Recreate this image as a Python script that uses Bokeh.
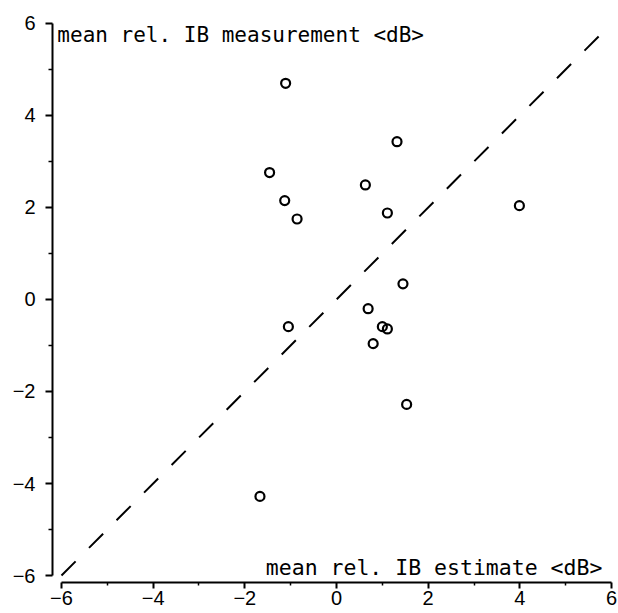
from bokeh.plotting import figure
from bokeh.models import Range1d, FixedTicker, Label, ColumnDataSource
from bokeh.embed import file_html
from bokeh.resources import INLINE

# data
est_x = [-1.11, -1.46, -1.13, -0.86, 0.63, 1.32, 1.11, 3.99, 1.45, 0.69, 1.00, 1.11, 0.80, -1.05, 1.53, -1.67]
meas_y = [4.70, 2.76, 2.15, 1.75, 2.49, 3.43, 1.88, 2.04, 0.34, -0.20, -0.59, -0.64, -0.96, -0.59, -2.28, -4.28]
diag_x = [-6, 6]
diag_y = [-6, 6]
major_ticks = [-6, -4, -2, 0, 2, 4, 6]
minor_ticks = [-5, -3, -1, 1, 3, 5]
y_title = "mean rel. IB measurement <dB>"
x_title = "mean rel. IB estimate <dB>"

p = figure(width=618, height=613, output_backend="svg", toolbar_location=None,
           x_range=Range1d(-6.196, 6.065), y_range=Range1d(-6.152, 6.217),
           min_border_left=52, min_border_right=4, min_border_top=13, min_border_bottom=31)

p.grid.visible = False
p.outline_line_color = None
p.background_fill_color = "white"
p.border_fill_color = "white"

for ax in (p.xaxis[0], p.yaxis[0]):
    ax.ticker = FixedTicker(ticks=major_ticks, minor_ticks=minor_ticks)
    ax.bounds = (-6, 6)
    ax.axis_line_width = 2
    ax.axis_line_color = "black"
    ax.major_tick_line_width = 2
    ax.major_tick_line_color = "black"
    ax.minor_tick_line_width = 1.5
    ax.minor_tick_line_color = "black"
    ax.major_tick_in = 0
    ax.minor_tick_in = 0
    ax.major_label_text_font = "Liberation Sans"
    ax.major_label_text_font_size = "20px"
    ax.major_label_text_color = "black"

p.xaxis.major_tick_out = 6
p.xaxis.minor_tick_out = 3
p.xaxis.major_label_standoff = 2
p.yaxis.major_tick_out = 7
p.yaxis.minor_tick_out = 4
p.yaxis.major_label_standoff = 10

p.line(diag_x, diag_y, line_color="black", line_width=2, line_dash="20 19")

src = ColumnDataSource(dict(x=est_x, y=meas_y))
p.scatter("x", "y", source=src, size=9, fill_color=None, line_color="black", line_width=2.2)

p.add_layout(Label(x=-6.09, y=5.74, text=y_title, text_font="DejaVu Sans Mono",
                   text_font_size="21px", text_color="black", text_baseline="alphabetic",
                   text_align="left"))
p.add_layout(Label(x=5.8, y=-5.83, text=x_title, text_font="DejaVu Sans Mono",
                   text_font_size="21.5px", text_color="black", text_baseline="alphabetic",
                   text_align="right"))

open("out.html", "w").write(file_html(p, INLINE))
